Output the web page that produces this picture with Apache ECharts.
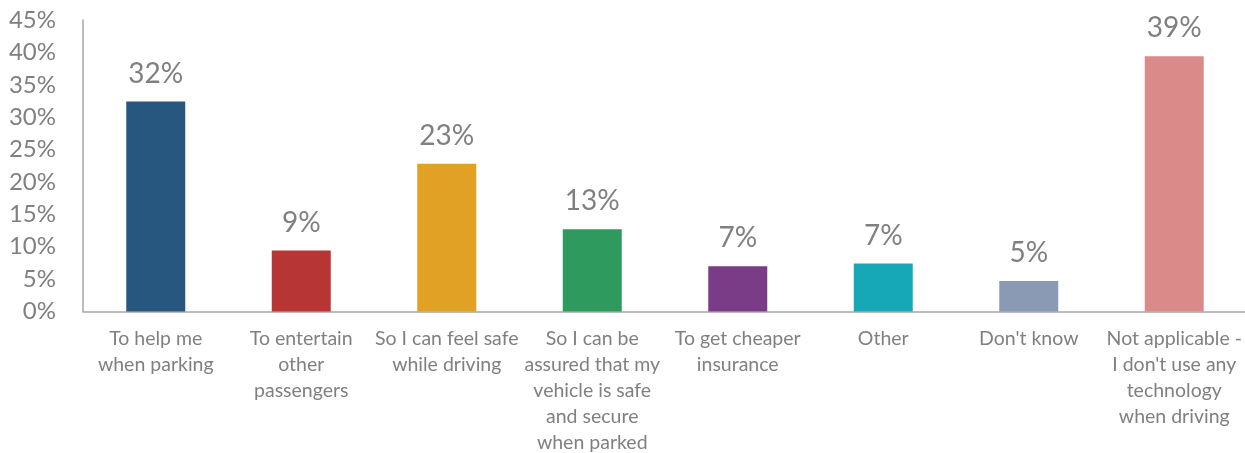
<!DOCTYPE html>
<html>
<head>
<meta charset="utf-8">
<script src="https://cdn.jsdelivr.net/npm/echarts@6/dist/echarts.min.js"></script>
<style>
  html, body { margin: 0; padding: 0; background: #ffffff; }
  #chart { width: 1245px; height: 453px; }
</style>
</head>
<body>
<div id="chart"></div>
<script>
// Reasons for using in-car technology (share of respondents, %)
const categories = [
  'To help me\nwhen parking',
  'To entertain\nother\npassengers',
  'So I can feel safe\nwhile driving',
  'So I can be\nassured that my\nvehicle is safe\nand secure\nwhen parked',
  'To get cheaper\ninsurance',
  'Other',
  "Don't know",
  "Not applicable -\nI don't use any\ntechnology\nwhen driving"
];
const values = [32.4, 9.4, 22.8, 12.7, 7.0, 7.4, 4.7, 39.4];
const barColors = ['#27577f', '#b83535', '#e0a125', '#2f9a5e', '#7a3b87', '#17a8b8', '#8a9ab4', '#db8a8a'];
const yTicks = { min: 0, max: 45, interval: 5 };

const FONT = 'Lato';
const TEXT = '#808080';

const chart = echarts.init(document.getElementById('chart'), null, { renderer: 'canvas' });
chart.setOption({
  animation: false,
  backgroundColor: '#ffffff',
  grid: {
    left: 83, right: -2, top: 20, bottom: 141.5,
    containLabel: false,
    outerBoundsMode: 'none'
  },
  xAxis: {
    type: 'category',
    data: categories,
    axisLine: { show: true, lineStyle: { color: '#a6a6a6', width: 1.5 } },
    axisTick: { show: false },
    axisLabel: {
      interval: 0,
      color: TEXT,
      fontFamily: FONT,
      fontSize: 19.5,
      lineHeight: 26,
      margin: 14,
      align: 'center'
    }
  },
  yAxis: {
    type: 'value',
    min: yTicks.min,
    max: yTicks.max,
    interval: yTicks.interval,
    axisLine: { show: true, lineStyle: { color: '#a6a6a6', width: 1.5 } },
    axisTick: { show: false },
    splitLine: { show: false },
    axisLabel: {
      color: TEXT,
      fontFamily: FONT,
      fontSize: 24,
      margin: 27,
      formatter: v => v + '%'
    }
  },
  series: [{
    type: 'bar',
    data: values.map((v, i) => ({ value: v, itemStyle: { color: barColors[i] } })),
    barWidth: 59,
    label: {
      show: true,
      position: 'top',
      distance: 14,
      color: TEXT,
      fontFamily: FONT,
      fontSize: 28,
      formatter: p => Math.round(p.value) + '%'
    }
  }]
});
</script>
</body>
</html>
